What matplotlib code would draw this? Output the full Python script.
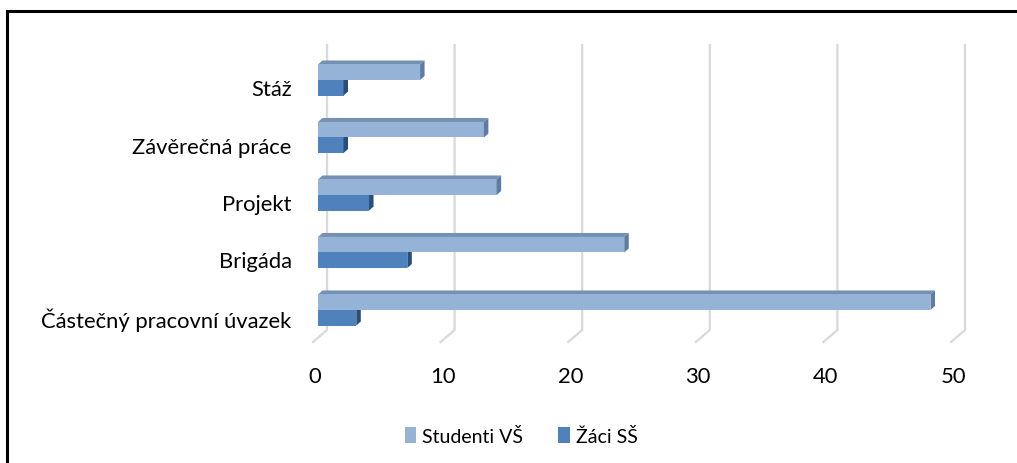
import matplotlib
matplotlib.use("Agg")
import matplotlib.pyplot as plt
from matplotlib.patches import Polygon, Patch
from matplotlib.lines import Line2D
import matplotlib.transforms as mtransforms

plt.rcParams['font.family'] = ['Lato', 'DejaVu Sans']

categories = ["Částečný pracovní úvazek", "Brigáda", "Projekt", "Závěrečná práce", "Stáž"]
studenti_vs = [48, 24, 14, 13, 8]
zaci_ss = [3, 7, 4, 2, 2]
series_names = ["Studenti VŠ", "Žáci SŠ"]
xticks = [0, 10, 20, 30, 40, 50]

W, H = 1017, 464
DPI = 100
fig = plt.figure(figsize=(W / DPI, H / DPI), dpi=DPI)

# axes geometry in pixels
px_left, px_right = 318, 318 + 50 * 12.76
px_top, px_bottom = 46, 343
ax = fig.add_axes([px_left / W, 1 - px_bottom / H, (px_right - px_left) / W, (px_bottom - px_top) / H])
ax.set_xlim(0, 50)
ypx = 57.5
ylo = -(px_bottom - 318) / ypx
yhi = (318 - px_top) / ypx
ax.set_ylim(ylo, yhi)
for s in ax.spines.values():
    s.set_visible(False)

xu = 12.76  # px per unit
dxd = 4.5 / xu
dyd = 4 / ypx

# gridlines (back wall + floor)
gback = 9 / xu
gfront = -5 / xu
ybend = (318 - 331) / ypx
for v in xticks:
    ax.plot([v + gback, v + gback, v + gfront], [yhi, ybend, ylo], color="#D9D9D9",
            lw=1.6, zorder=0, clip_on=False, solid_joinstyle="miter")

h = 0.27
cols = {
    "s": ("#95B3D7", "#7590B2", "#5F7B9F"),
    "z": ("#4F81BD", "#3E6797", "#2C4D75"),
}

def bar3d(y, v, key, z):
    front, top, side = cols[key]
    y0, y1 = y - h / 2, y + h / 2
    ax.barh(y, v, height=h, left=0, color=front, zorder=z, linewidth=0)
    ax.add_patch(Polygon([(0, y1), (v, y1), (v + dxd, y1 + dyd), (dxd, y1 + dyd)],
                         closed=True, facecolor=top, edgecolor="none", zorder=z - 0.5, clip_on=False))
    ax.add_patch(Polygon([(v, y0), (v, y1), (v + dxd, y1 + dyd), (v + dxd, y0 + dyd)],
                         closed=True, facecolor=side, edgecolor="none", zorder=z, clip_on=False))

for i, (sv, zv) in enumerate(zip(studenti_vs, zaci_ss)):
    bar3d(i - 0.013, zv, "z", 3)
    bar3d(i + 0.257, sv, "s", 5)

FS = 15.8
ax.set_yticks(range(len(categories)))
ax.set_yticklabels(categories, fontsize=FS, color="black")
ax.tick_params(axis="y", length=0, pad=19)

ax.set_xticks(xticks)
ax.set_xticklabels([str(t) for t in xticks], fontsize=FS, color="black")
ax.tick_params(axis="x", length=0, pad=17)
off = mtransforms.ScaledTranslation(-3 / DPI, 0, fig.dpi_scale_trans)
for lab in ax.get_xticklabels():
    lab.set_transform(lab.get_transform() + off)

handles = [Patch(facecolor=cols["s"][0], edgecolor="none"), Patch(facecolor=cols["z"][0], edgecolor="none")]
fig.legend(handles, series_names, loc="center", bbox_to_anchor=(521 / W, 1 - 437 / H), ncol=2,
           frameon=False, fontsize=14, handlelength=0.6, handleheight=0.9, handletextpad=0.3,
           columnspacing=1.8)

# outer border (top and left)
fig.add_artist(Line2D([7 / W, 7 / W, 1.0], [0.0, 1 - 12 / H, 1 - 12 / H], transform=fig.transFigure,
                      color="black", lw=2.2, solid_joinstyle="miter"))

fig.savefig("out.png", dpi=DPI)
